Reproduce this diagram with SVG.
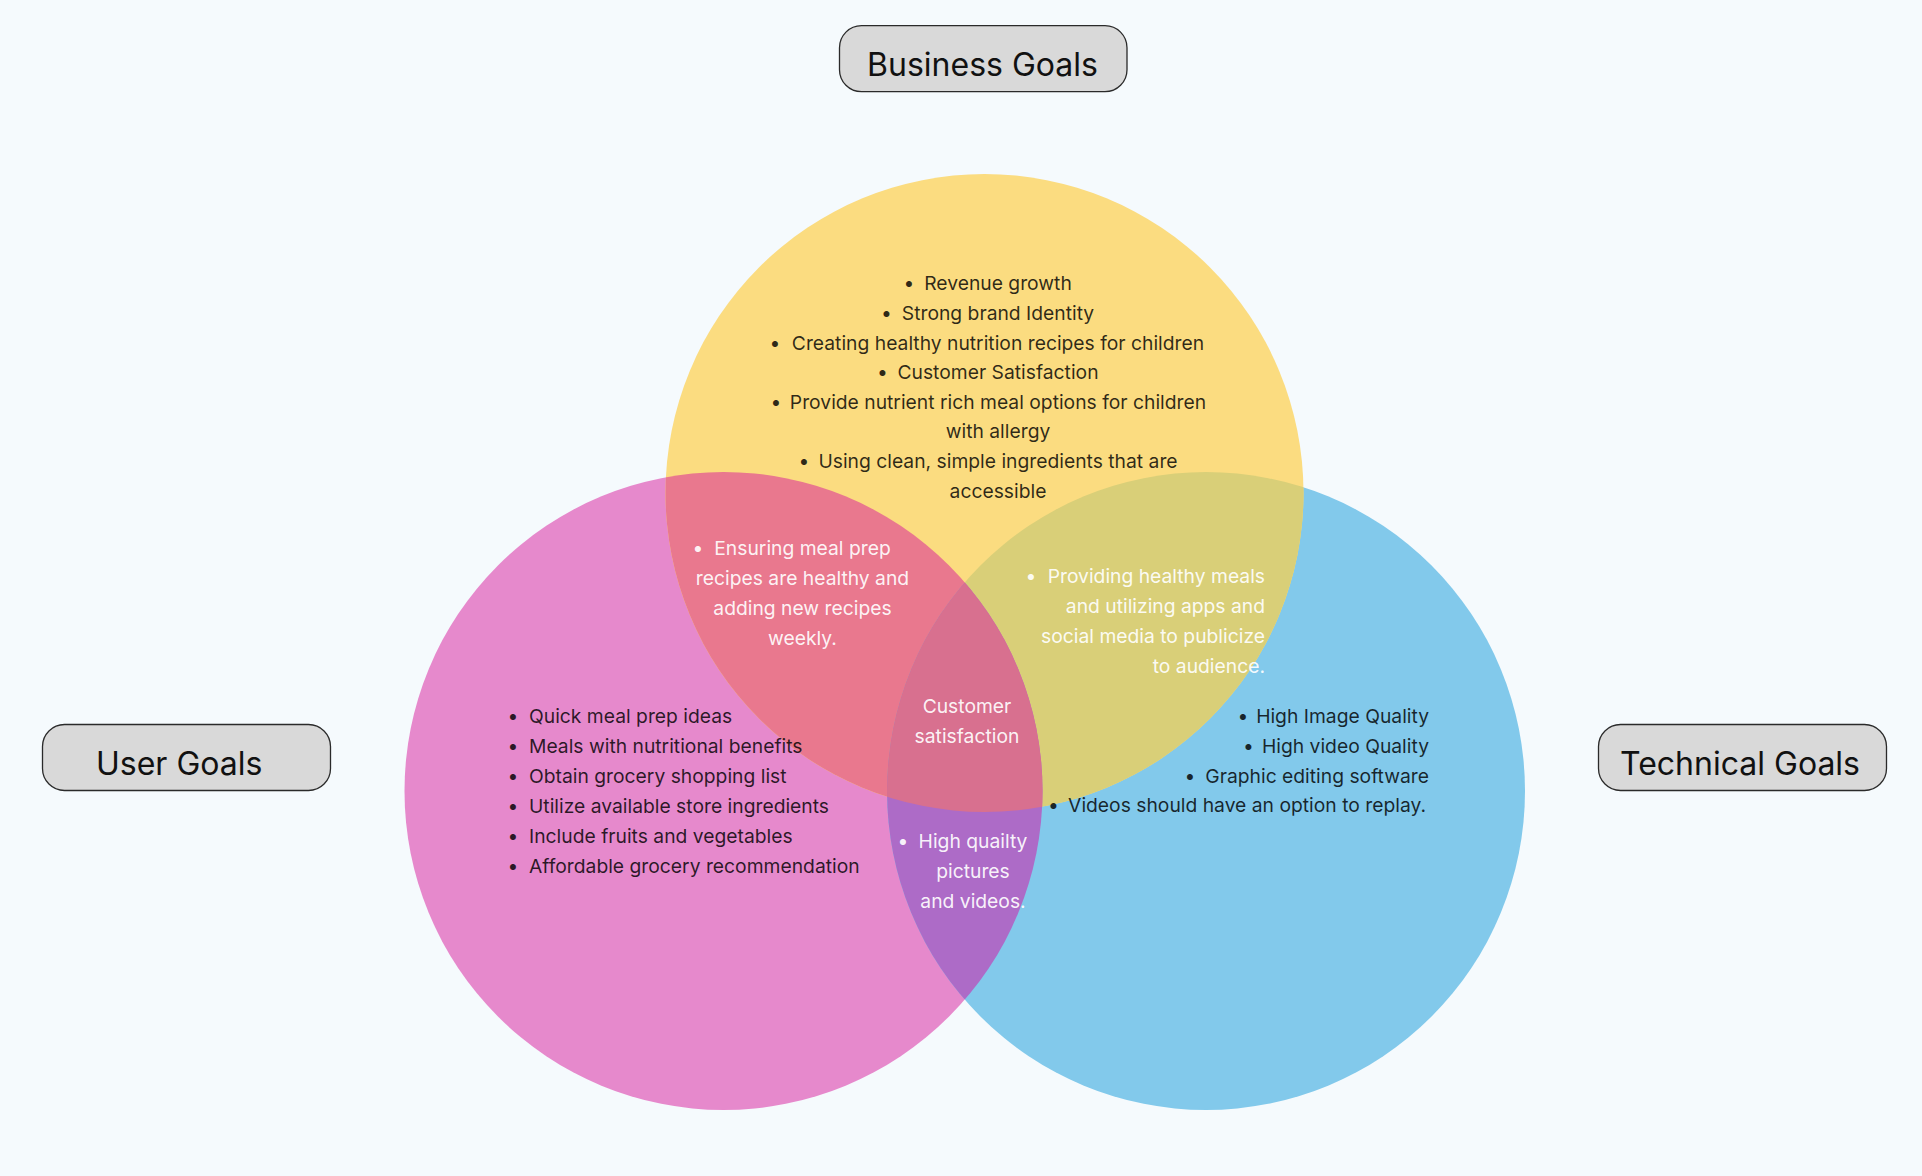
<svg xmlns="http://www.w3.org/2000/svg" width="1922" height="1176" viewBox="0 0 1922 1176">
<defs>
<style>
.t{font-family:Inter,"Noto Sans","Liberation Sans",sans-serif;font-size:19.3px;}
.d{fill:#000;fill-opacity:0.82;}
.w{fill:#fff;fill-opacity:0.93;}
.m{text-anchor:middle;}
.e{text-anchor:end;}
.title{font-family:Inter,"Noto Sans","Liberation Sans",sans-serif;font-size:32px;fill:#111;}
.box{fill:#d9d9d9;stroke:#2a2a2a;stroke-width:1.3;}
</style>
<clipPath id="cY"><circle cx="984.5" cy="493" r="319"/></clipPath>
<clipPath id="cP"><circle cx="723.5" cy="791" r="319"/></clipPath>
<clipPath id="cPY" clip-path="url(#cY)"><circle cx="723.5" cy="791" r="319"/></clipPath>
</defs>
<rect width="1922" height="1176" fill="#f5fafd"/>

<g id="circles">
<circle id="user-circle" cx="723.5" cy="791" r="319" fill="#e689cc"/>
<circle id="technical-circle" cx="1206" cy="791" r="319" fill="#82c9eb"/>
<circle id="business-circle" cx="984.5" cy="493" r="319" fill="#fbdc80"/>
<circle id="user-business" cx="723.5" cy="791" r="319" fill="#e9788e" clip-path="url(#cY)"/>
<circle id="business-technical" cx="1206" cy="791" r="319" fill="#d9cf78" clip-path="url(#cY)"/>
<circle id="user-technical" cx="1206" cy="791" r="319" fill="#ad6bc7" clip-path="url(#cP)"/>
<circle id="all-three" cx="1206" cy="791" r="319" fill="#d8708f" clip-path="url(#cPY)"/>
</g>

<g id="business-text" class="t d">
<text class="m" x="909" y="290">•</text><text class="m" x="998" y="290">Revenue growth</text>
<text class="m" x="886.5" y="320">•</text><text class="m" x="998" y="320">Strong brand Identity</text>
<text class="m" x="775" y="350">•</text><text class="m" x="998" y="350">Creating healthy nutrition recipes for children</text>
<text class="m" x="882.5" y="379">•</text><text class="m" x="998" y="379">Customer Satisfaction</text>
<text class="m" x="776" y="409">•</text><text class="m" x="998" y="409">Provide nutrient rich meal options for children</text>
<text class="m" x="998" y="438">with allergy</text>
<text class="m" x="804" y="468">•</text><text class="m" x="998" y="468">Using clean, simple ingredients that are</text>
<text class="m" x="998" y="498">accessible</text>
</g>

<g id="user-business-text" class="t w">
<text class="m" x="698" y="555">•</text><text class="m" x="802.5" y="555">Ensuring meal prep</text>
<text class="m" x="802.5" y="585">recipes are healthy and</text>
<text class="m" x="802.5" y="615">adding new recipes</text>
<text class="m" x="802.5" y="645">weekly.</text>
</g>

<g id="business-technical-text" class="t w">
<text class="m" x="1031" y="583">•</text><text class="e" x="1265" y="583">Providing healthy meals</text>
<text class="e" x="1265" y="613">and utilizing apps and</text>
<text class="e" x="1265" y="643">social media to publicize</text>
<text class="e" x="1265" y="673">to audience.</text>
</g>

<g id="all-three-text" class="t w">
<text class="m" x="967" y="713">Customer</text>
<text class="m" x="967" y="743">satisfaction</text>
</g>

<g id="user-technical-text" class="t w">
<text class="m" x="903" y="848">•</text><text class="m" x="973" y="848">High quailty</text>
<text class="m" x="973" y="878">pictures</text>
<text class="m" x="973" y="908">and videos.</text>
</g>

<g id="user-text" class="t d">
<text class="m" x="513" y="723">•</text><text x="529" y="723">Quick meal prep ideas</text>
<text class="m" x="513" y="753">•</text><text x="529" y="753">Meals with nutritional benefits</text>
<text class="m" x="513" y="783">•</text><text x="529" y="783">Obtain grocery shopping list</text>
<text class="m" x="513" y="813">•</text><text x="529" y="813">Utilize available store ingredients</text>
<text class="m" x="513" y="843">•</text><text x="529" y="843">Include fruits and vegetables</text>
<text class="m" x="513" y="873">•</text><text x="529" y="873">Affordable grocery recommendation</text>
</g>

<g id="technical-text" class="t d">
<text class="m" x="1243" y="723">•</text><text class="e" x="1429" y="723">High Image Quality</text>
<text class="m" x="1248.5" y="753">•</text><text class="e" x="1429" y="753">High video Quality</text>
<text class="m" x="1190" y="783">•</text><text class="e" x="1429" y="783">Graphic editing software</text>
<text class="m" x="1053.5" y="812">•</text><text class="e" x="1426" y="812">Videos should have an option to replay.</text>
</g>

<g id="business-goals">
<rect class="box" x="839.5" y="25.7" width="287.5" height="66" rx="22"/>
<text class="title" x="982.5" y="75.5" text-anchor="middle">Business Goals</text>
</g>
<g id="user-goals">
<rect class="box" x="42.5" y="724.5" width="288" height="66" rx="22"/>
<text class="title" x="96" y="775">User Goals</text>
</g>
<g id="technical-goals">
<rect class="box" x="1598.5" y="724.5" width="288" height="66" rx="22"/>
<text class="title" x="1740" y="775" text-anchor="middle">Technical Goals</text>
</g>
</svg>
